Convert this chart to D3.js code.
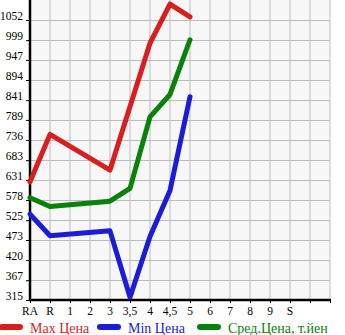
<!DOCTYPE html>
<html>
<head>
<meta charset="utf-8">
<script src="https://cdn.jsdelivr.net/npm/d3@7"></script>
<style>
  body { margin: 0; background: #fff; }
  svg text { font-family: "Liberation Serif", serif; }
</style>
</head>
<body>
<div id="graf"></div>
<script>
// categories along x (last two slots empty)
const xLabels = ['RA', 'R', '1', '2', '3', '3,5', '4', '4,5', '5', '6', '7', '8', '9', 'S', '', '']
const yTicks = [315, 367, 420, 473, 525, 578, 631, 683, 736, 789, 841, 894, 947, 999, 1052]

// series values by category index (null = no data)
const maxPrice = [626, 751, null, null, 657, null, 991, 1094, 1060]
const minPrice = [541, 484, null, null, 497, 322, 482, 603, 850]
const avgPrice = [584, 561, null, null, 575, 609, 797, 856, 1000]

const seriesNames = ['Max Цена', 'Min Цена', 'Сред.Цена, т.йен']
const seriesColors = ['#d81e1e', '#1c1cd8', '#0a820a']

const W = 345, H = 335
const margin = { top: 0, left: 30, right: 15, bottom: 35 }
const ancho = W - margin.left - margin.right
const alto = H - margin.top - margin.bottom

const svg = d3.select('#graf').append('svg')
  .attr('width', W)
  .attr('height', H)

const x = d3.scaleLinear().domain([0, xLabels.length - 1]).range([margin.left, margin.left + ancho])
const y = d3.scaleLinear().domain([315, 1052]).range([margin.top + alto, 20])

svg.append('rect')
  .attr('x', margin.left).attr('y', margin.top)
  .attr('width', ancho).attr('height', alto)
  .attr('fill', '#f7f7f7')

// grid
svg.append('g').selectAll('line.v')
  .data(d3.range(1, xLabels.length))
  .join('line')
  .attr('x1', d => x(d)).attr('x2', d => x(d))
  .attr('y1', margin.top).attr('y2', margin.top + alto)
  .attr('stroke', '#bdbdbd').attr('stroke-width', 1)

svg.append('g').selectAll('line.h')
  .data(yTicks.slice(1))
  .join('line')
  .attr('x1', margin.left).attr('x2', margin.left + ancho)
  .attr('y1', d => Math.round(y(d)) + 0.5).attr('y2', d => Math.round(y(d)) + 0.5)
  .attr('stroke', '#bdbdbd').attr('stroke-width', 1)

// axes
const yAxis = svg.append('g')
  .attr('transform', `translate(${margin.left}, 0)`)
  .call(d3.axisLeft(y).tickValues(yTicks).tickSize(4).tickPadding(3).tickFormat(d => d))
yAxis.select('.domain').remove()
yAxis.selectAll('line').attr('stroke', '#000')
yAxis.selectAll('text').attr('font-size', 11.5).attr('fill', '#000').attr('dy', '-0.05em')

const xAxis = svg.append('g')
  .attr('transform', `translate(0, ${margin.top + alto})`)
  .call(d3.axisBottom(x).tickValues(d3.range(xLabels.length)).tickSize(3).tickPadding(4).tickFormat(i => xLabels[i]))
xAxis.select('.domain').remove()
xAxis.selectAll('line').attr('stroke', '#000')
xAxis.selectAll('text').attr('font-size', 11.5).attr('fill', '#000').attr('dx', '-0.5')

svg.append('line')
  .attr('x1', margin.left).attr('x2', margin.left)
  .attr('y1', margin.top).attr('y2', margin.top + alto + 1)
  .attr('stroke', '#000').attr('stroke-width', 2.5)
svg.append('line')
  .attr('x1', margin.left - 1).attr('x2', margin.left + ancho + 1)
  .attr('y1', margin.top + alto).attr('y2', margin.top + alto)
  .attr('stroke', '#000').attr('stroke-width', 2.5)

// lines
const line = d3.line()
  .x(d => x(d[0]))
  .y(d => y(d[1]))

;[maxPrice, minPrice, avgPrice].forEach((vals, k) => {
  const pts = vals.map((v, i) => [i, v]).filter(p => p[1] != null)
  svg.append('path')
    .datum(pts)
    .attr('d', line)
    .attr('fill', 'none')
    .attr('stroke', seriesColors[k])
    .attr('stroke-width', 5)
    .attr('stroke-linejoin', 'round')
    .attr('stroke-linecap', 'round')
})

// legend
const legX = [2, 100, 200]
const leg = svg.append('g').attr('transform', 'translate(0, 327)')
seriesNames.forEach((name, k) => {
  leg.append('line')
    .attr('x1', legX[k]).attr('x2', legX[k] + 18)
    .attr('y1', 0).attr('y2', 0)
    .attr('stroke', seriesColors[k])
    .attr('stroke-width', 6)
    .attr('stroke-linecap', 'round')
  leg.append('text')
    .attr('x', legX[k] + 28)
    .attr('y', 5.5)
    .attr('font-size', 14)
    .attr('fill', seriesColors[k])
    .text(name)
})
</script>
</body>
</html>
